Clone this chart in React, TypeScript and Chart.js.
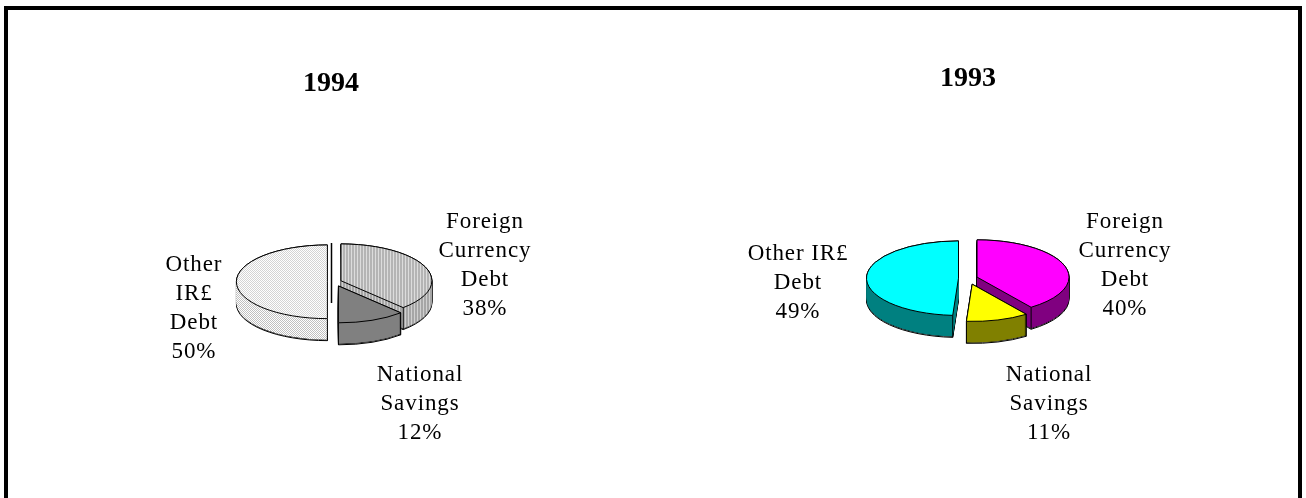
import React, { useEffect, useRef } from "react";
import { Chart, registerables } from "chart.js";

Chart.register(...registerables);

const categories = ["Foreign Currency Debt", "National Savings", "Other IR£ Debt"];
const values1994 = [38, 12, 50];
const values1993 = [40, 11, 49];
const labels1994 = [
  ["Foreign", "Currency", "Debt", "38%"],
  ["National", "Savings", "12%"],
  ["Other", "IR£", "Debt", "50%"],
];
const labels1993 = [
  ["Foreign", "Currency", "Debt", "40%"],
  ["National", "Savings", "11%"],
  ["Other IR£", "Debt", "49%"],
];

const FONT = '"Liberation Serif", serif';

function makePattern(kind: "stripes" | "dots", dark: boolean): CanvasPattern | string {
  const c = document.createElement("canvas");
  const x = c.getContext("2d")!;
  if (kind === "stripes") {
    c.width = 3;
    c.height = 2;
    x.fillStyle = dark ? "#a6a6a6" : "#b4b4b4";
    x.fillRect(0, 0, 3, 2);
    x.fillStyle = dark ? "#d0d0d0" : "#dcdcdc";
    x.fillRect(0, 0, 1, 2);
  } else {
    c.width = 2;
    c.height = 2;
    x.fillStyle = "#ffffff";
    x.fillRect(0, 0, 2, 2);
    x.fillStyle = dark ? "#c0c0c0" : "#d4d4d4";
    x.fillRect(0, 0, 1, 1);
    x.fillRect(1, 1, 1, 1);
  }
  return x.createPattern(c, "repeat")!;
}

const pie3d = {
  id: "pie3d",
  beforeDatasetsDraw(chart: any) {
    const o = chart.options.plugins.pie3d;
    const ctx: CanvasRenderingContext2D = chart.ctx;
    const arcs = chart.getDatasetMeta(0).data;
    const ds = chart.data.datasets[0];
    const k = o.squash;
    const depth = o.depth;
    const centre = (a: any) => {
      const mid = (a.startAngle + a.endAngle) / 2;
      const off = a.options.offset;
      return { x: a.x + o.dx + Math.cos(mid) * off, y: a.y + Math.sin(mid) * off * k };
    };
    const path = (a: any, dy: number) => {
      const c = centre(a);
      ctx.beginPath();
      ctx.moveTo(c.x, c.y + dy);
      ctx.ellipse(c.x, c.y + dy, a.outerRadius, a.outerRadius * k, 0, a.startAngle, a.endAngle);
      ctx.closePath();
    };
    ctx.save();
    ctx.lineJoin = "round";
    for (const i of o.order as number[]) {
      const a = arcs[i];
      const c = centre(a);
      ctx.strokeStyle = "#000";
      ctx.lineWidth = 1;
      for (let d = depth; d >= 0; d--) {
        path(a, d);
        ctx.stroke();
      }
      ctx.fillStyle = o.sides[i];
      for (let d = depth - 1; d >= 1; d--) {
        path(a, d);
        ctx.fill();
      }
      ctx.beginPath();
      for (const ang of [a.startAngle, a.endAngle]) {
        const px = c.x + Math.cos(ang) * a.outerRadius;
        const py = c.y + Math.sin(ang) * a.outerRadius * k;
        if (Math.sin(ang) > 0.05) {
          ctx.moveTo(px, py);
          ctx.lineTo(px, py + depth);
        }
      }
      ctx.stroke();
      path(a, 0);
      ctx.fillStyle = ds.backgroundColor[i];
      ctx.fill();
      ctx.stroke();
    }
    if (o.ghost) {
      ctx.beginPath();
      ctx.lineWidth = 1.5;
      ctx.moveTo(o.ghost.x, o.ghost.y0);
      ctx.lineTo(o.ghost.x, o.ghost.y1);
      ctx.stroke();
    }
    ctx.restore();
    return false;
  },
  afterDraw(chart: any) {
    const o = chart.options.plugins.pie3d;
    const ctx: CanvasRenderingContext2D = chart.ctx;
    ctx.save();
    ctx.fillStyle = "#000";
    ctx.font = `23px ${FONT}`;
    (ctx as any).letterSpacing = "0.9px";
    ctx.textAlign = "center";
    ctx.textBaseline = "alphabetic";
    o.texts.forEach((lines: string[], i: number) => {
      const p = o.textAt[i];
      lines.forEach((t, j) => ctx.fillText(t, p.x, p.y + j * 29));
    });
    ctx.restore();
  },
};

function Pie(props: any) {
  const ref = useRef<HTMLCanvasElement>(null);
  useEffect(() => {
    const chart = new Chart(ref.current!, {
      type: "pie",
      data: {
        labels: categories,
        datasets: [
          {
            data: props.values,
            backgroundColor: props.colors(),
            offset: props.offsets,
            borderWidth: 0,
          },
        ],
      },
      options: {
        animation: false,
        responsive: false,
        radius: props.radius,
        layout: { padding: props.padding },
        plugins: {
          legend: { display: false },
          tooltip: { enabled: false },
          title: {
            display: true,
            text: props.title,
            color: "#000",
            font: { family: FONT, size: 28, weight: "bold" },
            padding: { top: props.titleTop, bottom: 0 },
          },
          pie3d: {
            squash: 0.405,
            depth: 22,
            dx: props.dx,
            order: [2, 0, 1],
            sides: props.sides(),
            texts: props.texts,
            textAt: props.textAt,
            ghost: props.ghost,
          },
        },
      } as any,
      plugins: [pie3d as any],
    });
    return () => chart.destroy();
  }, []);
  return (
    <canvas
      ref={ref}
      width={props.width}
      height={498}
      style={{ position: "absolute", left: props.left, top: 0 }}
    />
  );
}

export default function App() {
  return (
    <div style={{ position: "absolute", left: 0, top: 0, width: 1306, height: 498, background: "#fff", overflow: "hidden" }}>
      <div
        style={{
          position: "absolute",
          left: 4,
          top: 6,
          width: 1298,
          height: 520,
          border: "4px solid #000",
          boxSizing: "border-box",
        }}
      />
      <Pie
        left={0}
        width={662}
        title="1994"
        titleTop={67}
        values={values1994}
        offsets={[7, 11, 7]}
        radius={91}
        dx={3.4}
        padding={{ left: 0, right: 0, top: 0, bottom: 35 }}
        colors={() => [makePattern("stripes", false), "#808080", makePattern("dots", false)]}
        sides={() => [makePattern("stripes", true), "#808080", makePattern("dots", true)]}
        texts={labels1994}
        textAt={[
          { x: 485, y: 228 },
          { x: 420, y: 381 },
          { x: 194, y: 271 },
        ]}
        ghost={{ x: 331.5, y0: 243, y1: 303 }}
      />
      <Pie
        left={630}
        width={676}
        title="1993"
        titleTop={62}
        values={values1993}
        offsets={[9.5, 15, 9.5]}
        radius={92}
        dx={0}
        padding={{ left: 0, right: 0, top: 0, bottom: 37 }}
        colors={() => ["#ff00ff", "#ffff00", "#00ffff"]}
        sides={() => ["#800080", "#808000", "#008080"]}
        texts={labels1993}
        textAt={[
          { x: 495, y: 228 },
          { x: 419, y: 381 },
          { x: 168, y: 260 },
        ]}
      />
    </div>
  );
}
